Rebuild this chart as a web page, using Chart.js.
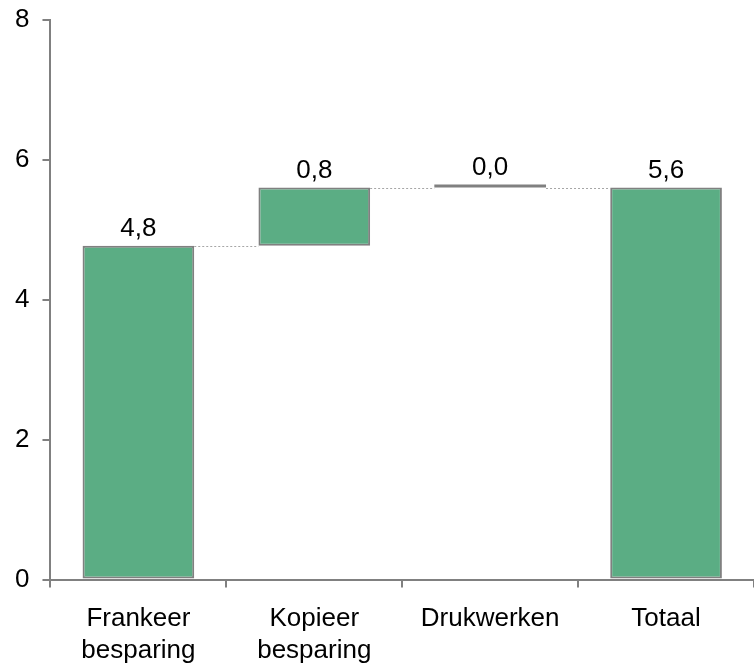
<!DOCTYPE html>
<html><head><meta charset="utf-8">
<script src="https://cdn.jsdelivr.net/npm/chart.js@4"></script>
<style>html,body{margin:0;padding:0;background:#fff}</style>
</head><body>
<canvas id="c" width="754" height="664"></canvas>
<script>
const categories = [["Frankeer","besparing"],["Kopieer","besparing"],"Drukwerken","Totaal"];
const barStart = [0, 4.77, 5.6, 0];
const barEnd = [4.77, 5.6, 5.6, 5.6];
const valueLabels = ["4,8","0,8","0,0","5,6"];
const yMin = 0, yMax = 8, yStep = 2;

const FONT = "'Liberation Sans', Arial, sans-serif";
const GREEN = '#5bad84';
const GRAY = '#808080';

const connectorPlugin = {
  id: 'connectors',
  afterDatasetsDraw(chart) {
    const ctx = chart.ctx;
    const meta = chart.getDatasetMeta(0);
    const y = chart.scales.y;
    ctx.save();
    ctx.strokeStyle = '#a6a6a6';
    ctx.lineWidth = 1;
    ctx.setLineDash([2, 2]);
    for (let i = 0; i < meta.data.length - 1; i++) {
      const a = meta.data[i], b = meta.data[i + 1];
      const py = Math.round(y.getPixelForValue(barEnd[i])) + 0.5;
      ctx.beginPath();
      ctx.moveTo(a.x + a.width / 2, py);
      ctx.lineTo(b.x - b.width / 2, py);
      ctx.stroke();
    }
    ctx.setLineDash([]);
    ctx.fillStyle = '#000';
    ctx.font = '26px ' + FONT;
    ctx.textAlign = 'center';
    ctx.textBaseline = 'alphabetic';
    meta.data.forEach((el, i) => {
      const top = Math.min(el.y, el.base);
      ctx.fillText(valueLabels[i], el.x, top - 10);
    });
    ctx.restore();
  }
};

new Chart(document.getElementById('c'), {
  type: 'bar',
  data: {
    labels: categories,
    datasets: [{
      data: barStart.map((s, i) => [s, barEnd[i]]),
      backgroundColor: barStart.map((s, i) => s === barEnd[i] ? GRAY : GREEN),
      borderColor: GRAY,
      borderWidth: barStart.map((s, i) => s === barEnd[i] ? 0 : 2),
      borderSkipped: false,
      minBarLength: 3,
      barPercentage: 0.635,
      categoryPercentage: 1
    }]
  },
  options: {
    responsive: false,
    animation: false,
    devicePixelRatio: 1,
    layout: { padding: { left: 2, top: 18, right: 0, bottom: -18 } },
    plugins: { legend: { display: false }, tooltip: { enabled: false } },
    scales: {
      x: {
        grid: { drawOnChartArea: false, drawTicks: true, tickLength: 8, color: GRAY, lineWidth: 2 },
        border: { color: GRAY, width: 2 },
        ticks: { color: '#000', font: { size: 26, family: FONT, lineHeight: 1.2 }, padding: 16, maxRotation: 0, autoSkip: false }
      },
      y: {
        min: yMin, max: yMax,
        grid: { drawOnChartArea: false, drawTicks: true, tickLength: 8, color: GRAY, lineWidth: 2 },
        border: { color: GRAY, width: 2 },
        ticks: { stepSize: yStep, color: '#000', font: { size: 26, family: FONT, lineHeight: 0.5 }, padding: 13 }
      }
    }
  },
  plugins: [connectorPlugin]
});
</script>
</body></html>
